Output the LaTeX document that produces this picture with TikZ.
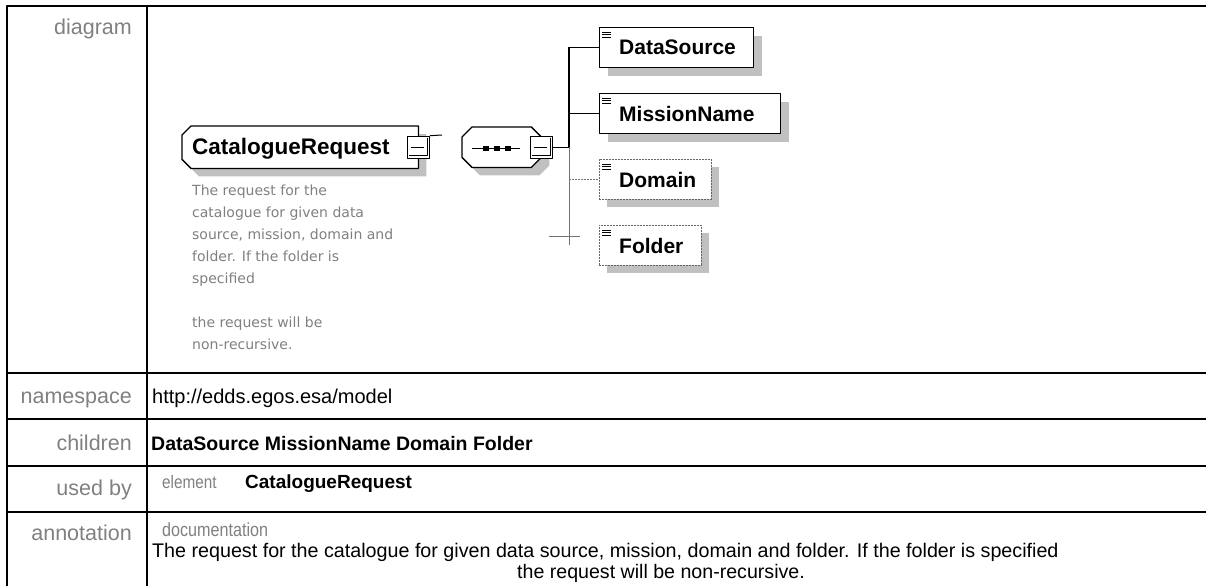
\documentclass[tikz,border=0pt]{standalone}
\usepackage{fontspec}
\setmainfont{Liberation Sans}
\newfontfamily\notefont{DejaVu Sans}
\newfontfamily\narrowfont{Liberation Sans}[FakeStretch=0.85]
\usetikzlibrary{positioning,shadows}
\definecolor{labelgray}{RGB}{128,128,128}
\definecolor{shadegray}{RGB}{192,192,192}
\begin{document}
\begin{tikzpicture}[x=1pt, y=-1pt, line join=round,
	tab/.style={line width=2pt},
	lab/.style={anchor=base east, inner sep=0, text=labelgray, font=\fontsize{21.5}{24}\selectfont},
	val/.style={anchor=base west, inner sep=0, font=\fontsize{20}{24}\selectfont},
	boxshadow/.style={drop shadow={shadow xshift=8pt, shadow yshift=-8pt, fill=shadegray, opacity=1}},
	reqbox/.style={draw, line width=1.3pt, fill=white, boxshadow, anchor=north west, inner sep=0, minimum height=40pt},
	optbox/.style={draw=black!60, dash pattern=on 2pt off 1pt, line width=0.7pt, fill=white, boxshadow, anchor=north west, inner sep=0, minimum height=40pt},
	eltext/.style={anchor=base west, inner sep=0, font=\bfseries\fontsize{21}{24}\selectfont},
	frame/.style={anchor=north west, inner sep=0},
	outline/.style={draw, line width=1.3pt, fill=white, boxshadow},
	minbox/.style={draw, line width=1pt, fill=white, minimum size=22pt, inner sep=0},
	conn/.style={line width=1.3pt},
	optline/.style={draw=black!55, line width=0.7pt},
	note/.style={anchor=north west, inner sep=0, align=left, text=labelgray, font=\notefont\fontsize{14}{22}\selectfont}]
	\useasboundingbox (0,0) rectangle (1206,586);
	% table
	\draw[tab] (7,586) -- (7,6) -- (1206,6);
	\draw[tab] (147,6) -- (147,586);
	\foreach \y in {373,419,466,512}
	\draw[tab] (7,\y) -- (1206,\y);
	\node[lab] (diag) at (132,35) {diagram};
	\node[lab] (nslab) at (132,403) {namespace};
	\node[lab] (kidslab) at (132,450) {children};
	\node[lab] (usedlab) at (132,495) {used by};
	\node[lab] (annlab) at (132,540) {annotation};
	\node[val] (ns) at (152,403) {http://edds.egos.esa/model};
	\node[val, font=\bfseries\fontsize{19.5}{24}\selectfont] (kids) at (151,450) {DataSource MissionName Domain Folder};
	\node[val, text=labelgray, font=\narrowfont\fontsize{18}{20}\selectfont] (usedel) at (162,488) {element};
	\node[val, font=\bfseries\fontsize{19}{22}\selectfont] (usedname) at (245,488) {CatalogueRequest};
	\node[val, text=labelgray, font=\narrowfont\fontsize{19}{20}\selectfont] (doc) at (162,536) {documentation};
	\node[val, font=\fontsize{19.7}{22}\selectfont] (doc1) at (152,557) {The request for the catalogue for given data source, mission, domain and folder. If the folder is specified};
	\node[val, font=\fontsize{19.6}{22}\selectfont] (doc2) at (517,578) {the request will be non-recursive.};
	% element
	\node[frame, minimum width=236pt, minimum height=42pt] (CatReq) at (182,126) {};
	\filldraw[outline] ([xshift=9pt]CatReq.north west) -- (CatReq.north east) -- (CatReq.south east)
		-- ([xshift=9pt]CatReq.south west) -- ([yshift=9pt]CatReq.south west) -- ([yshift=-9pt]CatReq.north west) -- cycle;
	\node[eltext, font=\bfseries\fontsize{22.5}{24}\selectfont] (CatReq-t) at (192,154) {CatalogueRequest};
	\node[note] (CatReq-n) at (192,185) {The request for the\\catalogue for given data\\source, mission, domain and\\folder. If the folder is\\specified\\ \\the request will be\\non-recursive.};
	\node[minbox] (CatReqMin) at (CatReq.east) {};
	\coordinate (CatReqEnd) at (442,135);
	\draw[line width=1pt] (CatReqMin.north east) -- (CatReqEnd);
	% sequence
	\node[frame, minimum width=79pt, minimum height=40pt] (Seq) at (462,127) {};
	\filldraw[outline] ([xshift=10pt]Seq.north west) -- ([xshift=-10pt]Seq.north east) -- ([yshift=-10pt]Seq.north east)
		-- ([yshift=10pt]Seq.south east) -- ([xshift=-10pt]Seq.south east) -- ([xshift=10pt]Seq.south west)
		-- ([yshift=10pt]Seq.south west) -- ([yshift=-10pt]Seq.north west) -- cycle;
	\coordinate (SeqL) at (472,148);
	\coordinate (SeqR) at (520,148);
	\draw[line width=1pt] (SeqL) -- (SeqR);
	\foreach \x in {486,497,508}
	\fill (\x-3,145.5) rectangle (\x+3,150.5);
	\node[minbox] (SeqMin) at (Seq.east) {};
	\foreach \m in {CatReqMin,SeqMin} {
		\draw[line width=0.8pt] ([xshift=-3pt,yshift=-2pt]\m.north east) |- ([xshift=2pt,yshift=3pt]\m.south west);
		\draw[line width=1pt] ([xshift=4pt]\m.west) -- ([xshift=-6pt]\m.east);
	}
	% children
	\coordinate (TrunkTop) at (569,47);
	\coordinate (TrunkBot) at (569,245);
	\foreach \name/\w/\y/\st in {DataSource/154/27/reqbox, MissionName/181/93/reqbox, Domain/112/159/optbox, Folder/102/225/optbox} {
		\node[\st, minimum width=\w pt] (\name) at (599,\y) {};
		\node[eltext] (\name-t) at (619,\y+28) {\name};
		\foreach \d in {5,7.5,10}
		\draw[line width=0.8pt] ([xshift=3pt,yshift=-\d pt]\name.north west) -- ++(9,0);
	}
	\draw[conn] (SeqMin.east) -- (SeqMin.east -| TrunkTop);
	\draw[conn] (TrunkTop) -- (SeqMin.east -| TrunkTop);
	\draw[optline] (SeqMin.east -| TrunkTop) -- (TrunkBot);
	\draw[conn] (DataSource.west -| TrunkTop) -- (DataSource.west);
	\draw[conn] (MissionName.west -| TrunkTop) -- (MissionName.west);
	\draw[optline, dash pattern=on 2pt off 1pt] (Domain.west -| TrunkTop) -- (Domain.west);
	\coordinate (TickL) at (549,236);
	\coordinate (TickR) at (580,236);
	\draw[optline] (TickL) -- (TickR);
\end{tikzpicture}
\end{document}
